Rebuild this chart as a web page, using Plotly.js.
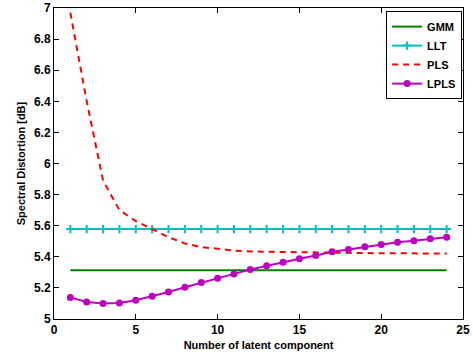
<!DOCTYPE html>
<html>
<head>
<meta charset="utf-8">
<script src="https://cdn.plot.ly/plotly-3.0.1.min.js"></script>
<style>html,body{margin:0;padding:0;background:#fff;}#chart{width:473px;height:358px;}</style>
</head>
<body>
<div id="chart"></div>
<script>
const components = [1,2,3,4,5,6,7,8,9,10,11,12,13,14,15,16,17,18,19,20,21,22,23,24];
const gmm = [5.314,5.314,5.314,5.314,5.314,5.314,5.314,5.314,5.314,5.314,5.314,5.314,5.314,5.314,5.314,5.314,5.314,5.314,5.314,5.314,5.314,5.314,5.314,5.314];
const llt = [5.578,5.578,5.578,5.578,5.578,5.578,5.578,5.578,5.578,5.578,5.578,5.578,5.578,5.578,5.578,5.578,5.578,5.578,5.578,5.578,5.578,5.578,5.578,5.578];
const pls = [6.97,6.40,5.89,5.70,5.63,5.576,5.526,5.486,5.462,5.452,5.44,5.434,5.432,5.43,5.43,5.428,5.426,5.425,5.424,5.423,5.422,5.422,5.421,5.421];
const lpls = [5.139,5.110,5.099,5.103,5.120,5.146,5.174,5.204,5.234,5.262,5.290,5.318,5.342,5.365,5.387,5.408,5.432,5.447,5.464,5.479,5.494,5.503,5.516,5.525];
const xTicks = [0,5,10,15,20,25];
const yTicks = [5,5.2,5.4,5.6,5.8,6,6.2,6.4,6.6,6.8,7];
const seriesNames = ['GMM','LLT','PLS','LPLS'];

const fontFam = 'Arial, "Liberation Sans", sans-serif';
const b = s => '<b>' + s + '</b>';
const traces = [
  {x: components, y: gmm, name: b(seriesNames[0]), mode: 'lines', line: {color: '#008000', width: 2}},
  {x: components, y: llt, name: b(seriesNames[1]), mode: 'lines+markers', line: {color: '#00BFBF', width: 2},
   marker: {symbol: 'cross-thin', size: 6, line: {color: '#00BFBF', width: 2}, color: '#00BFBF'}},
  {x: components, y: pls, name: b(seriesNames[2]), mode: 'lines', line: {color: '#FF0000', width: 2, dash: '6px,5px'}},
  {x: components, y: lpls, name: b(seriesNames[3]), mode: 'lines+markers', line: {color: '#BF00BF', width: 2},
   marker: {symbol: 'circle', size: 7, color: '#BF00BF'}}
];
const axisCommon = {
  showline: true, linecolor: '#000', linewidth: 1, mirror: 'ticks',
  ticks: 'inside', ticklen: 5, tickcolor: '#000', showgrid: false, zeroline: false,
  tickfont: {family: fontFam, size: 12, color: '#000'}
};
const layout = {
  width: 473, height: 358,
  margin: {l: 54, r: 10, t: 8, b: 39},
  paper_bgcolor: '#fff', plot_bgcolor: '#fff',
  font: {family: fontFam, color: '#000'},
  xaxis: Object.assign({}, axisCommon, {
    range: [0, 25], tickvals: xTicks, ticktext: xTicks.map(v => b(String(v))),
    title: {text: b('Number of latent component'), font: {family: fontFam, size: 11, color: '#000'}, standoff: 4}
  }),
  yaxis: Object.assign({}, axisCommon, {
    range: [5, 7], tickvals: yTicks, ticktext: yTicks.map(v => b(String(v))),
    title: {text: b('Spectral Distortion [dB]'), font: {family: fontFam, size: 11, color: '#000'}, standoff: 6}
  }),
  showlegend: true,
  legend: {
    x: 0.812, y: 0.99, xanchor: 'left', yanchor: 'top',
    bordercolor: '#000', borderwidth: 1, bgcolor: '#fff',
    font: {family: fontFam, size: 11, color: '#000'},
    tracegroupgap: 0, itemwidth: 30
  }
};
Plotly.newPlot('chart', traces, layout, {displayModeBar: false, staticPlot: true});
</script>
</body>
</html>
